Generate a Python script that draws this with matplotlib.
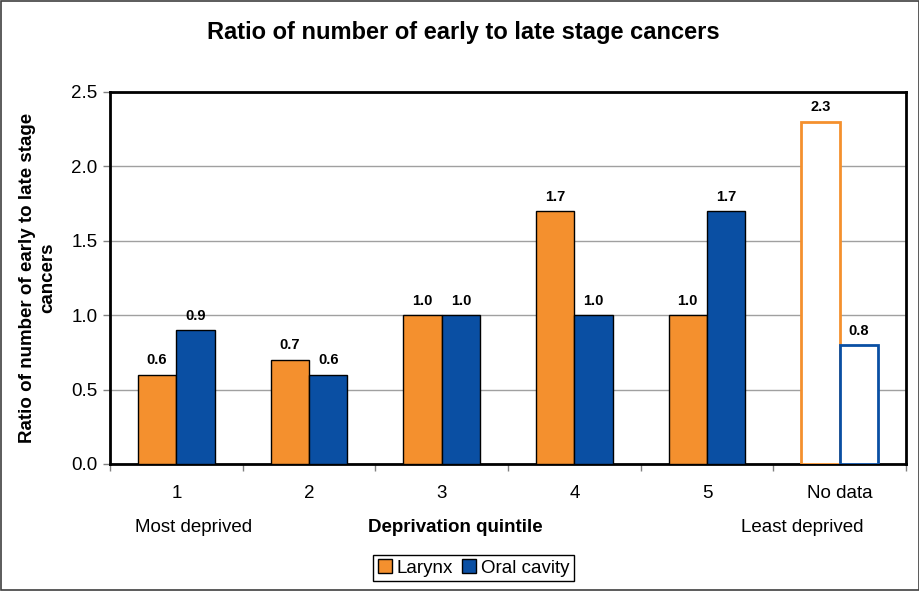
import matplotlib
matplotlib.use("Agg")
import matplotlib.pyplot as plt
import numpy as np
from matplotlib.patches import Rectangle, Patch

plt.rcParams['font.family'] = ['Liberation Sans', 'DejaVu Sans']

categories = ["1", "2", "3", "4", "5", "No data"]
larynx = [0.6, 0.7, 1.0, 1.7, 1.0, 2.3]
oral = [0.9, 0.6, 1.0, 1.0, 1.7, 0.8]
yticks = [0.0, 0.5, 1.0, 1.5, 2.0, 2.5]

orange = "#F4902E"
blue = "#0A4FA3"
FS = 13.5

fig = plt.figure(figsize=(9.2, 5.91), dpi=100)
ax = fig.add_axes([110/920, 1-464/591, 796/920, 372/591])

x = np.arange(len(categories))
w = 0.29
for i in range(len(categories)):
    nodata = categories[i] == "No data"
    if nodata:
        ax.bar(x[i]-w/2, larynx[i], w, facecolor="white", edgecolor=orange, linewidth=2, zorder=3)
        ax.bar(x[i]+w/2, oral[i], w, facecolor="white", edgecolor=blue, linewidth=2, zorder=3)
    else:
        ax.bar(x[i]-w/2, larynx[i], w, facecolor=orange, edgecolor="black", linewidth=1, zorder=3)
        ax.bar(x[i]+w/2, oral[i], w, facecolor=blue, edgecolor="black", linewidth=1, zorder=3)
    ax.text(x[i]-w/2, larynx[i]+0.05, f"{larynx[i]:.1f}", ha="center", va="bottom",
            fontsize=10.5, fontweight="bold")
    ax.text(x[i]+w/2, oral[i]+0.05, f"{oral[i]:.1f}", ha="center", va="bottom",
            fontsize=10.5, fontweight="bold")

ax.set_xlim(-0.5, len(categories)-0.5)
ax.set_ylim(0, 2.5)
ax.set_yticks(yticks)
ax.set_yticklabels([f"{v:.1f}" for v in yticks], fontsize=FS)
ax.yaxis.grid(True, color="#A0A0A0", linewidth=1, zorder=0)
ax.set_axisbelow(True)

ax.set_xticks(np.arange(-0.5, len(categories), 1.0))
ax.set_xticklabels([])
ax.set_xticks(x, minor=True)
ax.set_xticklabels(categories, minor=True, fontsize=FS)
ax.tick_params(axis="x", which="major", length=5, color="#808080", width=1)
ax.tick_params(axis="x", which="minor", length=0, pad=15)
ax.tick_params(axis="y", length=5, width=1, color="#808080", pad=4)

for s in ax.spines.values():
    s.set_linewidth(2)
    s.set_color("black")

ax.set_ylabel("Ratio of number of early to late stage\ncancers", fontsize=13.5,
              fontweight="bold", linespacing=1.25)
ax.yaxis.set_label_coords(-0.068, 0.5)

fig.text(463/920, 1-33/591, "Ratio of number of early to late stage cancers",
         ha="center", va="center", fontsize=17, fontweight="bold")

tr = ax.get_xaxis_transform()
ax.text(0.133, -0.17, "Most deprived", transform=tr, ha="center", va="center", fontsize=FS)
ax.text(2.10, -0.17, "Deprivation quintile", transform=tr, ha="center", va="center",
        fontsize=FS, fontweight="bold")
ax.text(4.72, -0.17, "Least deprived", transform=tr, ha="center", va="center", fontsize=FS)

handles = [Patch(facecolor=orange, edgecolor="black", label="Larynx"),
           Patch(facecolor=blue, edgecolor="black", label="Oral cavity")]
leg = fig.legend(handles=handles, loc="center", bbox_to_anchor=(473.5/920, 1-568/591),
                 ncol=2, fontsize=FS, frameon=True, fancybox=False, framealpha=1,
                 edgecolor="black", handlelength=0.75, handleheight=0.75,
                 handletextpad=0.25, columnspacing=0.5, borderpad=0.25, borderaxespad=0)
leg.get_frame().set_linewidth(1)

fig.patches.append(Rectangle((0.001, 0.001), 0.998, 0.997, transform=fig.transFigure,
                             fill=False, edgecolor="#404040", linewidth=1.2))

fig.savefig("out.png", dpi=100, facecolor="white")
